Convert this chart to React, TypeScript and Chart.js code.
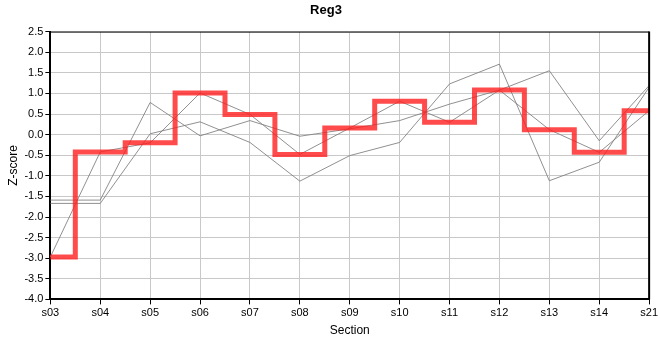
import React, { useEffect, useRef } from "react";
import { Chart, registerables } from "chart.js";

Chart.register(...registerables);

const sections = ["s03", "s04", "s05", "s06", "s07", "s08", "s09", "s10", "s11", "s12", "s13", "s14", "s21"];
const reg3 = [-2.97, -0.42, -0.2, 1.01, 0.49, -0.48, 0.16, 0.81, 0.3, 1.08, 0.12, -0.43, 0.58];
const otherA = [-1.59, -1.59, 0.78, -0.03, 0.34, -0.04, 0.14, 0.34, 0.74, 1.08, 1.55, -0.15, 1.19];
const otherB = [-1.67, -1.67, 0.02, 0.31, -0.19, -1.13, -0.51, -0.19, 1.23, 1.71, -1.12, -0.67, 1.15];
const yMin = -4.0;
const yMax = 2.5;
const yStep = 0.5;
const titleText = "Reg3";
const xTitle = "Section";
const yTitle = "Z-score";

const borderPlugin = {
  id: "frameBox",
  afterDraw(chart: any) {
    const { ctx, chartArea } = chart;
    ctx.save();
    ctx.strokeStyle = "#000";
    ctx.lineWidth = 1;
    ctx.beginPath();
    ctx.moveTo(chartArea.left, chartArea.top + 0.5);
    ctx.lineTo(chartArea.right, chartArea.top + 0.5);
    ctx.stroke();
    ctx.lineWidth = 2;
    ctx.beginPath();
    ctx.moveTo(chartArea.right, chartArea.top);
    ctx.lineTo(chartArea.right, chartArea.bottom);
    ctx.stroke();
    ctx.restore();
  },
};

export default function App() {
  const ref = useRef<HTMLCanvasElement>(null);
  useEffect(() => {
    if (!ref.current) return;
    const font = "'Liberation Sans', Arial, sans-serif";
    const grey = "rgba(125,125,125,0.85)";
    const chart = new Chart(ref.current, {
      type: "line",
      data: {
        labels: sections,
        datasets: [
          {
            data: reg3,
            stepped: "middle",
            borderColor: "rgba(255,30,30,0.8)",
            borderWidth: 5,
            pointRadius: 0,
            order: 0,
          },
          { data: reg3, borderColor: grey, borderWidth: 1, pointRadius: 0, order: 1 },
          { data: otherA, borderColor: grey, borderWidth: 1, pointRadius: 0, order: 2 },
          { data: otherB, borderColor: grey, borderWidth: 1, pointRadius: 0, order: 3 },
        ],
      },
      options: {
        animation: false,
        responsive: false,
        layout: { padding: { left: 2, right: 10, top: 0, bottom: 18 } },
        plugins: {
          legend: { display: false },
          tooltip: { enabled: false },
          title: {
            display: true,
            text: titleText,
            color: "#000",
            font: { family: font, size: 13, weight: "bold" },
            padding: { top: 3, bottom: 13 },
          },
        },
        scales: {
          x: {
            offset: false,
            grid: { color: "#c8c8c8", tickColor: "#000", tickLength: 5 },
            border: { color: "#000", width: 2 },
            ticks: { color: "#000", font: { family: font, size: 11 }, maxRotation: 0, padding: 2 },
            title: { display: true, text: xTitle, color: "#000", font: { family: font, size: 12 }, padding: { top: 2 } },
          },
          y: {
            min: yMin,
            max: yMax,
            grid: { color: "#c8c8c8", tickColor: "#000", tickLength: 5 },
            border: { color: "#000", width: 2 },
            ticks: {
              stepSize: yStep,
              color: "#000",
              font: { family: font, size: 11 },
              padding: 2,
              callback: (v: any) => Number(v).toFixed(1),
            },
            title: { display: true, text: yTitle, color: "#000", font: { family: font, size: 12 }, padding: { bottom: 2 } },
          },
        },
      },
      plugins: [borderPlugin],
    });
    return () => chart.destroy();
  }, []);
  return (
    <div style={{ position: "absolute", left: 0, top: 0, width: 660, height: 360, background: "#fff" }}>
      <canvas ref={ref} width={660} height={360} />
    </div>
  );
}
